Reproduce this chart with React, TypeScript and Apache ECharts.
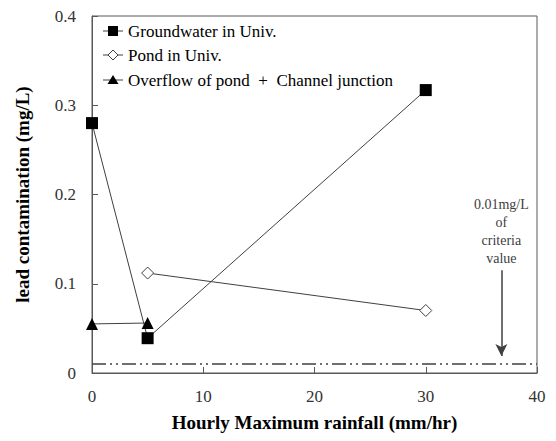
import React, { useEffect, useRef } from "react";
import * as echarts from "echarts";

const groundwater: [number, number][] = [
  [0, 0.28],
  [5, 0.039],
  [30, 0.317],
];
const pond: [number, number][] = [
  [5, 0.112],
  [30, 0.07],
];
const overflow: [number, number][] = [
  [0, 0.055],
  [5, 0.056],
];
const criteria = 0.01;
const seriesNames = [
  "Groundwater in Univ.",
  "Pond in Univ.",
  "Overflow of pond  +  Channel junction",
];
const xTicks = [0, 10, 20, 30, 40];
const yTicks = [0, 0.1, 0.2, 0.3, 0.4];
const yTickLabels = ["0", "0.1", "0.2", "0.3", "0.4"];
const annotationText = "0.01mg/L\nof\ncriteria\nvalue";
const arrowX = 36.8;

const FONT = "Liberation Serif";
const LINE = "#404040";

export default function App() {
  const ref = useRef<HTMLDivElement>(null);
  useEffect(() => {
    if (!ref.current) return;
    document.body.style.margin = "0";
    const chart = echarts.init(ref.current, null, { renderer: "svg" });
    chart.setOption({
      animation: false,
      backgroundColor: "#ffffff",
      grid: {
        left: 92,
        right: 19,
        top: 16,
        bottom: 68,
        show: true,
        borderColor: "#595959",
        borderWidth: 1,
      },
      xAxis: {
        type: "value",
        min: 0,
        max: 40,
        interval: 10,
        name: "Hourly Maximum rainfall (mm/hr)",
        nameLocation: "middle",
        nameGap: 40,
        nameTextStyle: { fontFamily: FONT, fontSize: 19, fontWeight: "bold", color: "#000" },
        axisLine: { lineStyle: { color: "#595959" } },
        axisTick: { inside: true, length: 6, lineStyle: { color: "#595959" } },
        axisLabel: { show: false },
        splitLine: { show: false },
      },
      yAxis: {
        type: "value",
        min: 0,
        max: 0.4,
        interval: 0.1,
        name: "lead contamination (mg/L)",
        nameLocation: "middle",
        nameGap: 60,
        nameTextStyle: { fontFamily: FONT, fontSize: 19, fontWeight: "bold", color: "#000" },
        axisLine: { show: true, lineStyle: { color: "#595959" } },
        axisTick: { show: true, inside: true, length: 6, lineStyle: { color: "#595959" } },
        axisLabel: { show: false },
        splitLine: { show: false },
      },
      series: [
        {
          name: seriesNames[0],
          type: "line",
          data: groundwater,
          symbol: "rect",
          symbolSize: 12,
          itemStyle: { color: "#000" },
          lineStyle: { color: LINE, width: 1 },
          z: 5,
        },
        {
          name: seriesNames[1],
          type: "line",
          data: pond,
          symbol: "diamond",
          symbolSize: 12,
          itemStyle: { color: "#fff", borderColor: LINE, borderWidth: 1 },
          lineStyle: { color: LINE, width: 1 },
          z: 5,
        },
        {
          name: seriesNames[2],
          type: "line",
          data: overflow,
          symbol: "triangle",
          symbolSize: 12,
          itemStyle: { color: "#000" },
          lineStyle: { color: LINE, width: 1 },
          z: 5,
        },
        {
          name: "criteria",
          type: "line",
          data: [
            [0, criteria],
            [40, criteria],
          ],
          symbol: "none",
          lineStyle: { color: LINE, width: 1.5, type: [14, 4, 2, 4, 2, 4] },
          markLine: {
            silent: true,
            symbol: ["none", "arrow"],
            symbolSize: [9, 12],
            lineStyle: { color: LINE, width: 1.5, type: "solid" },
            label: { show: false },
            data: [
              [
                { coord: [arrowX, 0.115] },
                { coord: [arrowX, 0.019] },
              ],
            ],
          },
          markPoint: {
            silent: true,
            symbol: "circle",
            symbolSize: 1,
            itemStyle: { color: "transparent" },
            label: {
              show: true,
              position: "inside",
              formatter: annotationText,
              fontFamily: FONT,
              fontSize: 14,
              lineHeight: 18,
              color: LINE,
              align: "center",
            },
            data: [{ coord: [arrowX, 0.158] }],
          },
        },
      ],
    });

    const els: any[] = [];
    xTicks.forEach((v) => {
      const p = chart.convertToPixel({ gridIndex: 0 }, [v, 0]) as number[];
      els.push({
        type: "text",
        x: p[0],
        y: p[1] + 23,
        style: {
          text: String(v),
          fontFamily: FONT,
          fontWeight: "normal",
          fontSize: 17,
          fill: "#333",
          align: "center",
          verticalAlign: "middle",
        },
      });
    });
    yTicks.forEach((v, i) => {
      const p = chart.convertToPixel({ gridIndex: 0 }, [0, v]) as number[];
      els.push({
        type: "text",
        x: p[0] - 16,
        y: p[1],
        style: {
          text: yTickLabels[i],
          fontFamily: FONT,
          fontWeight: "normal",
          fontSize: 17,
          fill: "#333",
          align: "right",
          verticalAlign: "middle",
        },
      });
    });
    const rowY = [31, 55, 80];
    const iconL = 103;
    const iconR = 123;
    const cx = 113;
    rowY.forEach((y, i) => {
      els.push({
        type: "line",
        shape: { x1: iconL, y1: y, x2: iconR, y2: y },
        style: { stroke: LINE, lineWidth: 1 },
      });
      if (i === 0) {
        els.push({
          type: "rect",
          shape: { x: cx - 5, y: y - 5, width: 10, height: 10 },
          style: { fill: "#000" },
        });
      } else if (i === 1) {
        els.push({
          type: "polygon",
          shape: { points: [[cx, y - 5], [cx + 5, y], [cx, y + 5], [cx - 5, y]] },
          style: { fill: "#fff", stroke: LINE, lineWidth: 1 },
        });
      } else {
        els.push({
          type: "polygon",
          shape: { points: [[cx, y - 5], [cx + 5.5, y + 4], [cx - 5.5, y + 4]] },
          style: { fill: "#000" },
        });
      }
      els.push({
        type: "text",
        x: 128,
        y: y,
        style: {
          text: seriesNames[i],
          fontFamily: FONT,
          fontWeight: "normal",
          fontSize: 17,
          fill: "#000",
          align: "left",
          verticalAlign: "middle",
        },
      });
    });
    chart.setOption({ graphic: els });
    return () => chart.dispose();
  }, []);
  return <div ref={ref} style={{ width: 556, height: 441 }} />;
}
